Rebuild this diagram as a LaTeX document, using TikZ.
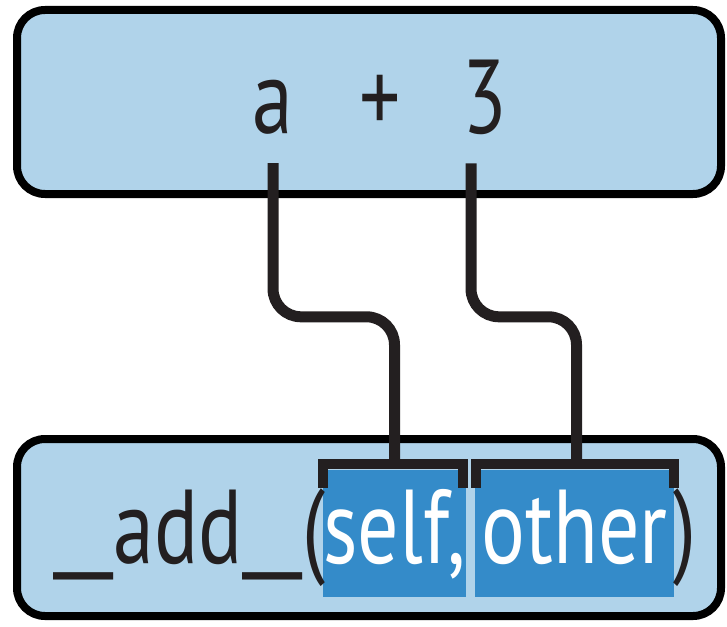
\documentclass[tikz,border=0pt]{standalone}
\usepackage{fontspec}
\usepackage{graphicx}
\setmainfont{PT Sans}[FakeStretch=0.78]
\definecolor{lightblue}{HTML}{B0D3EA}
\definecolor{midblue}{HTML}{348BC9}
\definecolor{ink}{HTML}{231F20}
\newcommand{\wideus}{\raisebox{5pt}{\scalebox{1.8}[1]{\_}}}
\begin{document}
\begin{tikzpicture}[x=1pt,y=-1pt,
  box/.style={draw=black, line width=8pt, fill=lightblue, rounded corners=28pt, inner sep=0pt},
  txt/.style={inner sep=0pt, font=\fontsize{105}{110}\selectfont, text=ink},
  arg/.style={txt, fill=midblue, text=white, text height=93pt, text depth=34pt, anchor=base},
  wire/.style={draw=ink, line width=11pt, rounded corners=28pt},
  brace/.style={draw=ink, line width=10pt}]
\useasboundingbox (0,0) rectangle (727,626);
% boxes
\node[box, minimum width=704pt, minimum height=184pt] (topbox) at (369,102) {};
\node[box, minimum width=704pt, minimum height=177pt] (botbox) at (369,527.5) {};
% top expression
\node[txt, anchor=base] (a) at (273,133) {a};
\node[txt, anchor=base] (plus) at (380,133) {+};
\node[txt, anchor=base] (three) at (485,133) {3};
% bottom call
\node[arg, minimum width=137pt] (self) at (394.5,563) {self,};
\node[arg, minimum width=199pt] (other) at (574.5,563) {other};
\node[txt, anchor=base east] (fn) at (326,563) {\wideus add\wideus(};
\node[txt, anchor=base west] (close) at (673,563) {)};
% brackets
\draw[brace] ([yshift=-18pt]self.north west) -- ([yshift=6pt]self.north west) -- ([xshift=-3pt,yshift=6pt]self.north east) -- ([xshift=-3pt,yshift=-18pt]self.north east);
\draw[brace] ([xshift=1pt,yshift=-18pt]other.north west) -- ([xshift=1pt,yshift=6pt]other.north west) -- ([yshift=6pt]other.north east) -- ([yshift=-18pt]other.north east);
% wires
\draw[wire] ([yshift=-29pt]a.south) |- ([yshift=153pt]self.north) -- ([yshift=6pt]self.north);
\draw[wire] ([xshift=-14pt,yshift=-29pt]three.south) |- ([xshift=2pt,yshift=153pt]other.north) -- ([xshift=2pt,yshift=6pt]other.north);
\end{tikzpicture}
\end{document}
